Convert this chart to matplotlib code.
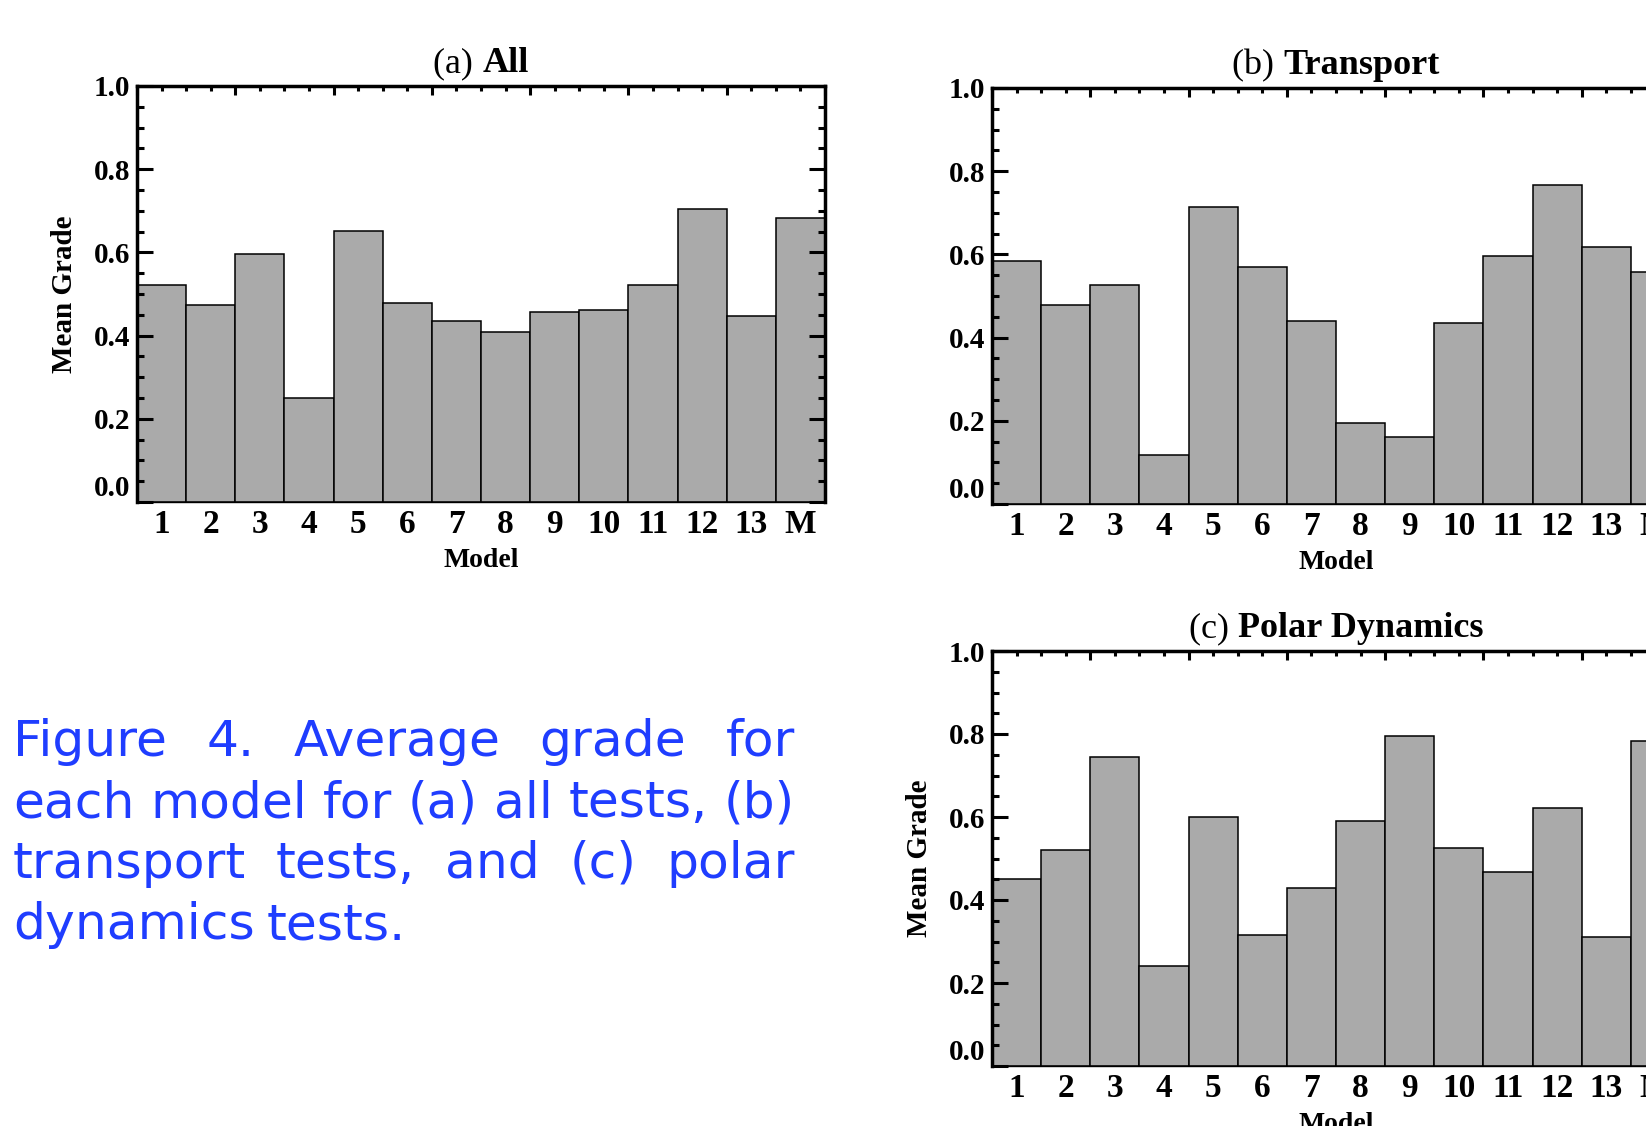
import numpy as np
import matplotlib
matplotlib.use("Agg")
import matplotlib.pyplot as plt
from matplotlib.ticker import MultipleLocator


models = ["1", "2", "3", "4", "5", "6", "7", "8", "9", "10", "11", "12", "13", "M"]

grade_all = [0.521, 0.473, 0.597, 0.249, 0.651, 0.479, 0.436, 0.408,
             0.457, 0.462, 0.521, 0.704, 0.447, 0.683]
grade_transport = [0.585, 0.478, 0.526, 0.118, 0.713, 0.569, 0.440, 0.195,
                   0.162, 0.434, 0.595, 0.767, 0.617, 0.558]
grade_polar = [0.451, 0.521, 0.745, 0.242, 0.601, 0.316, 0.429, 0.590,
               0.794, 0.526, 0.467, 0.622, 0.312, 0.782]

caption_lines = [
    "Figure 4. Average grade for",
    "each model for (a) all tests, (b)",
    "transport tests, and (c) polar",
    "dynamics tests.",
]

W, H = 1646, 1126
SERIF = "Liberation Serif"
BLUE = "#1f3dff"

fig = plt.figure(figsize=(W / 100, H / 100), dpi=100)
renderer = fig.canvas.get_renderer()


def px_axes(x0, top, bottom, width=688):
    return fig.add_axes([x0 / W, 1 - bottom / H, width / W, (bottom - top) / H])


def draw_panel(ax, vals, tag, name, ylabel=True):
    x = np.arange(len(vals))
    ax.bar(x, vals, width=1.0, color="#aaaaaa", edgecolor="black", linewidth=1.1)
    ax.set_xlim(-0.5, len(vals) - 0.5)
    ax.set_ylim(0, 1.0)

    for s in ("top", "left", "right"):
        ax.spines[s].set_linewidth(2.5)
    ax.spines["bottom"].set_linewidth(1.0)

    # y axis: major 0.2, minor 0.05, ticks inward on both sides
    ax.yaxis.set_minor_locator(MultipleLocator(0.05))
    yt = np.arange(0, 1.01, 0.2)
    ax.set_yticks(yt)
    ax.set_yticklabels(["%.1f" % v for v in yt], fontfamily=SERIF, fontweight="bold")
    ax.tick_params(axis="y", which="major", direction="in", length=11.5, width=2.2,
                   left=True, right=True, pad=5, labelsize=21)
    ax.tick_params(axis="y", which="minor", direction="in", length=5, width=2.2,
                   left=True, right=True)
    ax.get_yticklabels()[0].set_verticalalignment("bottom")

    # x axis: labels at bars, ticks only on top
    sec = ax.secondary_xaxis("top")
    sec.xaxis.set_major_locator(MultipleLocator(2, offset=-0.5))
    sec.xaxis.set_minor_locator(MultipleLocator(0.5, offset=-0.5))
    sec.tick_params(which="major", direction="in", length=6.5, width=2.2, labeltop=False)
    sec.tick_params(which="minor", direction="in", length=3.6, width=2.2)
    sec.spines["top"].set_visible(False)

    ax.set_xticks(x)
    ax.set_xticklabels(models, fontfamily=SERIF, fontweight="bold", fontsize=24)
    ax.tick_params(axis="x", which="both", length=0, pad=5)

    ax.set_xlabel("Model", fontfamily=SERIF, fontweight="bold", fontsize=20, labelpad=6)
    if ylabel:
        ax.set_ylabel("Mean Grade", fontfamily=SERIF, fontweight="bold", fontsize=21,
                      labelpad=11)

    # title: "(a)" regular, name bold
    bb = ax.get_window_extent(renderer)
    cx = (bb.x0 + bb.x1) / 2
    y = bb.y1 + 14
    t1 = fig.text(0, 0, tag + " ", fontfamily=SERIF, fontsize=26)
    t2 = fig.text(0, 0, name, fontfamily=SERIF, fontsize=26, fontweight="bold")
    w1 = t1.get_window_extent(renderer).width
    w2 = t2.get_window_extent(renderer).width
    x0 = cx - (w1 + w2) / 2
    t1.set_position((x0 / W, y / H))
    t2.set_position(((x0 + w1) / W, y / H))


ax_a = px_axes(137, 86, 502)
draw_panel(ax_a, grade_all, "(a)", "All")

ax_b = px_axes(992, 88, 504)
draw_panel(ax_b, grade_transport, "(b)", "Transport", ylabel=False)

ax_c = px_axes(992, 651, 1066)
draw_panel(ax_c, grade_polar, "(c)", "Polar Dynamics")

# justified caption; size chosen so the tightest line fits with normal spacing
left, right = 13, 795
cap_font = "DejaVu Sans"
probe = fig.text(0, 0, caption_lines[1], fontsize=30, fontfamily=cap_font)
cap_size = 30 * (right - left) / probe.get_window_extent(renderer).width
probe.remove()

baselines = [756, 817, 878, 939]
for i, (line, yb) in enumerate(zip(caption_lines, baselines)):
    words = line.split(" ")
    texts = [fig.text(0, 1 - yb / H, w, fontsize=cap_size, color=BLUE,
                      fontfamily=cap_font, va="baseline") for w in words]
    widths = [t.get_window_extent(renderer).width for t in texts]
    if i < len(caption_lines) - 1 and len(words) > 1:
        gap = (right - left - sum(widths)) / (len(words) - 1)
    else:
        gap = cap_size * 0.32
    xpos = left
    for t, w in zip(texts, widths):
        t.set_x(xpos / W)
        xpos += w + gap

fig.savefig("out.png", dpi=100)
